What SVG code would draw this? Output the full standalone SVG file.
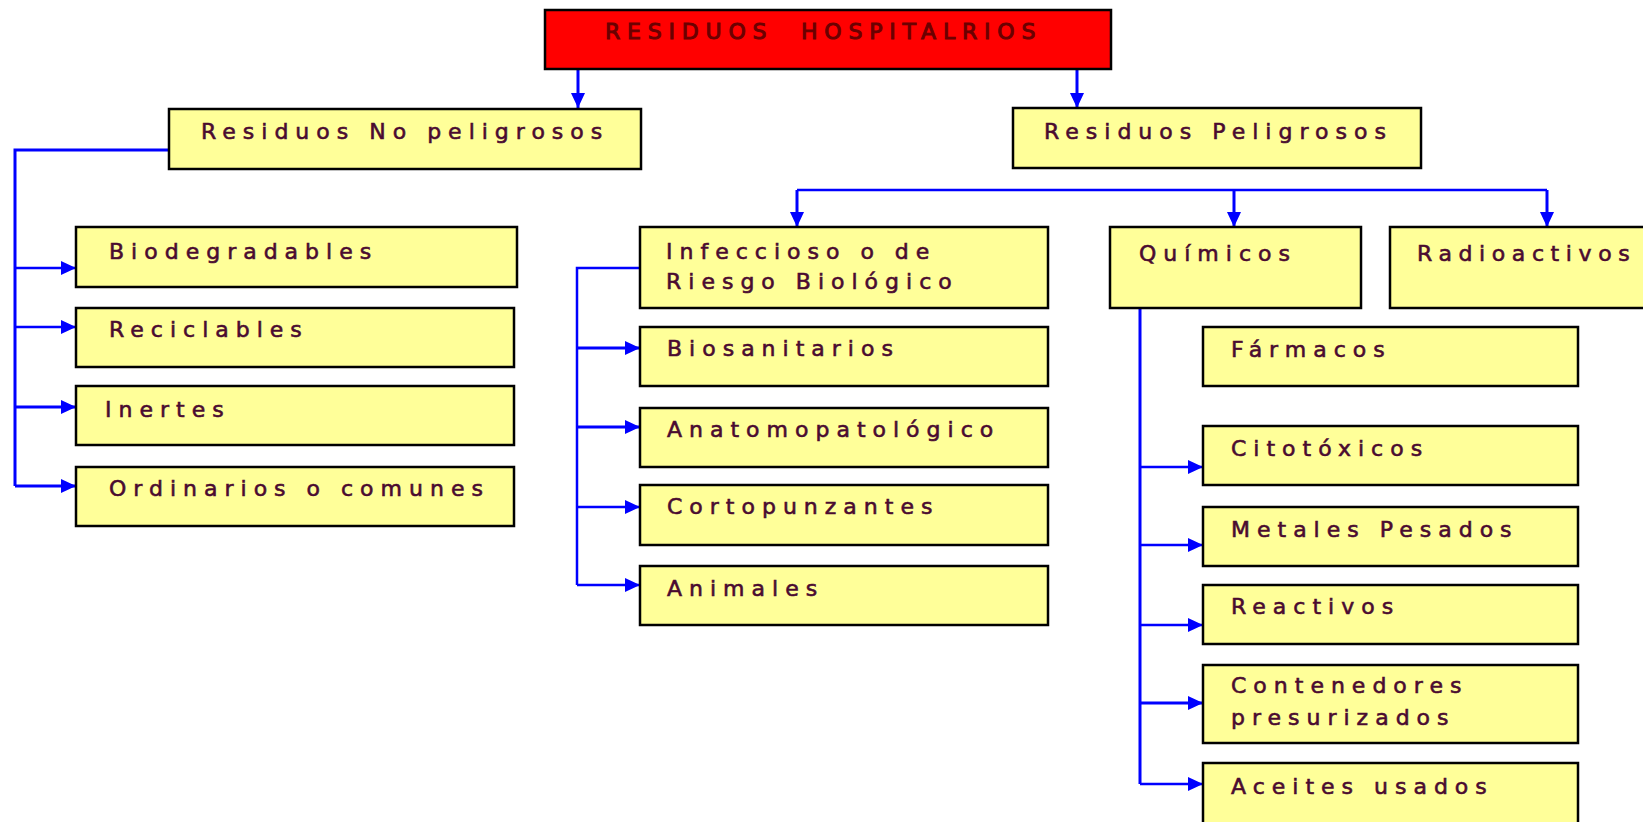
<svg xmlns="http://www.w3.org/2000/svg" width="1643" height="822" viewBox="0 0 1643 822">
<defs>
<marker id="ah" markerUnits="userSpaceOnUse" markerWidth="16" markerHeight="14" refX="15" refY="7" orient="auto">
<path d="M0,0 L15,7 L0,14 Z" fill="#0000ff"/>
</marker>
<style>
.box{fill:#ffff99;stroke:#000;stroke-width:2.5}
.top{fill:#ff0000;stroke:#000;stroke-width:2.5}
.t{font-family:"DejaVu Sans",Verdana,sans-serif;font-size:22px;letter-spacing:7px;fill:#4a0b30;stroke:#4a0b30;stroke-width:0.6}
.tt{font-family:"DejaVu Sans",Verdana,sans-serif;font-size:22px;letter-spacing:6.8px;fill:#6a0000;stroke:#6a0000;stroke-width:1;white-space:pre}
.c{fill:none;stroke:#0000ff;stroke-width:3}
.b{fill:none;stroke:#0000ff;stroke-width:2.5}
</style>
</defs>
<rect width="1643" height="822" fill="#fff"/>
<g id="connectors">
<path class="c" d="M578,69 V108" marker-end="url(#ah)"/>
<path class="c" d="M1077,69 V108" marker-end="url(#ah)"/>
<path class="c" d="M169,150 H15 V486"/>
<path class="b" d="M15,268 H76" marker-end="url(#ah)"/>
<path class="b" d="M15,327 H76" marker-end="url(#ah)"/>
<path class="c" d="M15,407 H76" marker-end="url(#ah)"/>
<path class="c" d="M15,486 H76" marker-end="url(#ah)"/>
<path class="b" d="M797,190 H1547"/>
<path class="c" d="M797,190 V227" marker-end="url(#ah)"/>
<path class="c" d="M1234,190 V227" marker-end="url(#ah)"/>
<path class="c" d="M1547,190 V227" marker-end="url(#ah)"/>
<path class="b" d="M640,268 H577 V585"/>
<path class="c" d="M577,348 H640" marker-end="url(#ah)"/>
<path class="c" d="M577,427 H640" marker-end="url(#ah)"/>
<path class="b" d="M577,507 H640" marker-end="url(#ah)"/>
<path class="b" d="M577,585 H640" marker-end="url(#ah)"/>
<path class="c" d="M1140,308 V784"/>
<path class="b" d="M1140,467 H1203" marker-end="url(#ah)"/>
<path class="b" d="M1140,545 H1203" marker-end="url(#ah)"/>
<path class="b" d="M1140,625 H1203" marker-end="url(#ah)"/>
<path class="c" d="M1140,703 H1203" marker-end="url(#ah)"/>
<path class="b" d="M1140,784 H1203" marker-end="url(#ah)"/>
</g>
<g id="n-root"><rect class="top" x="545" y="10" width="566" height="59"/><text class="tt" x="605" y="39" xml:space="preserve">RESIDUOS  HOSPITALRIOS</text></g>
<g id="n-nopel"><rect class="box" x="169" y="109" width="472" height="60"/><text class="t" x="201" y="139">Residuos No peligrosos</text></g>
<g id="n-pel"><rect class="box" x="1013" y="108" width="408" height="60"/><text class="t" x="1044" y="139">Residuos Peligrosos</text></g>
<g id="n-biodeg"><rect class="box" x="76" y="227" width="441" height="60"/><text class="t" x="109" y="259">Biodegradables</text></g>
<g id="n-recic"><rect class="box" x="76" y="308" width="438" height="59"/><text class="t" x="109" y="337">Reciclables</text></g>
<g id="n-inertes"><rect class="box" x="76" y="386" width="438" height="59"/><text class="t" x="105" y="417">Inertes</text></g>
<g id="n-ordin"><rect class="box" x="76" y="467" width="438" height="59"/><text class="t" x="109" y="496">Ordinarios o comunes</text></g>
<g id="n-infec"><rect class="box" x="640" y="227" width="408" height="81"/><text class="t" x="666" y="259">Infeccioso o de</text><text class="t" x="666" y="289">Riesgo Biológico</text></g>
<g id="n-biosan"><rect class="box" x="640" y="327" width="408" height="59"/><text class="t" x="667" y="356">Biosanitarios</text></g>
<g id="n-anato"><rect class="box" x="640" y="408" width="408" height="59"/><text class="t" x="667" y="437">Anatomopatológico</text></g>
<g id="n-corto"><rect class="box" x="640" y="485" width="408" height="60"/><text class="t" x="667" y="514">Cortopunzantes</text></g>
<g id="n-anim"><rect class="box" x="640" y="566" width="408" height="59"/><text class="t" x="667" y="596">Animales</text></g>
<g id="n-quim"><rect class="box" x="1110" y="227" width="251" height="81"/><text class="t" x="1139" y="261">Químicos</text></g>
<g id="n-radio"><rect class="box" x="1390" y="227" width="260" height="81"/><text class="t" x="1417" y="261" style="letter-spacing:6.6px">Radioactivos</text></g>
<g id="n-farm"><rect class="box" x="1203" y="327" width="375" height="59"/><text class="t" x="1231" y="357">Fármacos</text></g>
<g id="n-cito"><rect class="box" x="1203" y="426" width="375" height="59"/><text class="t" x="1231" y="456">Citotóxicos</text></g>
<g id="n-metal"><rect class="box" x="1203" y="507" width="375" height="59"/><text class="t" x="1231" y="537">Metales Pesados</text></g>
<g id="n-react"><rect class="box" x="1203" y="585" width="375" height="59"/><text class="t" x="1231" y="614">Reactivos</text></g>
<g id="n-conten"><rect class="box" x="1203" y="665" width="375" height="78"/><text class="t" x="1231" y="693">Contenedores</text><text class="t" x="1231" y="725">presurizados</text></g>
<g id="n-aceit"><rect class="box" x="1203" y="763" width="375" height="70"/><text class="t" x="1231" y="794">Aceites usados</text></g>
</svg>
